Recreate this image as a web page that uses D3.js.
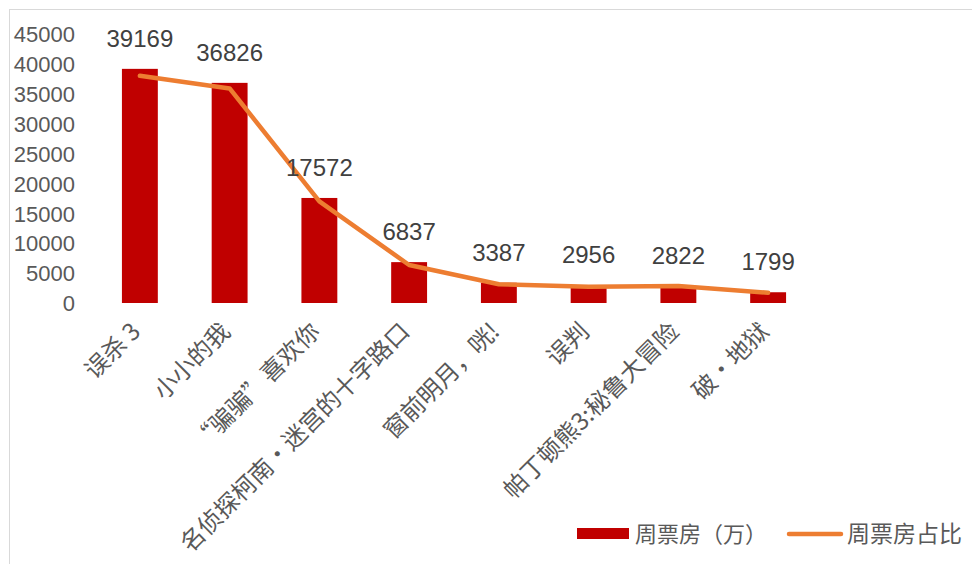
<!DOCTYPE html>
<html><head><meta charset="utf-8">
<script src="https://cdn.jsdelivr.net/npm/d3@7/dist/d3.min.js"></script>
<style>
html,body{margin:0;padding:0;background:#fff;}
text{font-family:"Liberation Sans","Noto Sans CJK SC",sans-serif;}
text.cjk{font-family:"Noto Sans CJK SC","Liberation Sans",sans-serif;}
</style></head>
<body>
<svg id="c" width="972" height="564"></svg>
<script>
const categories = ["误杀 3","小小的我","“骗骗”喜欢你","名侦探柯南・迷宫的十字路口","窗前明月，咣!","误判","帕丁顿熊3:秘鲁大冒险","破・地狱"];
const boxOffice = [39169,36826,17572,6837,3387,2956,2822,1799];
const share = [33.8,31.9,15.1,5.65,2.78,2.42,2.53,1.53];
const yTicks = [0,5000,10000,15000,20000,25000,30000,35000,40000,45000];
const seriesNames = ["周票房（万）","周票房占比"];

const svg = d3.select("#c");
// frame
svg.append("rect").attr("x",9.5).attr("y",9.5).attr("width",1000).attr("height",1000)
  .attr("fill","none").attr("stroke","#d9d9d9").attr("stroke-width",1);

const x = d3.scaleBand().domain(categories).range([95,813]).paddingInner(0.6).paddingOuter(0.3);
const y = d3.scaleLinear().domain([0,45000]).range([303,34]);
const y2 = d3.scaleLinear().domain([0,40]).range([303,34]);

// y axis
const yAxis = svg.append("g").attr("transform","translate(75,0)")
  .call(d3.axisLeft(y).tickValues(yTicks).tickSize(0).tickPadding(0).tickFormat(d3.format("d")));
yAxis.select(".domain").remove();
yAxis.selectAll("text").attr("fill","#595959").style("font-size","22px").attr("dy","0.35em");

// bars
svg.append("g").selectAll("rect").data(boxOffice).join("rect")
  .attr("x",(d,i)=>x(categories[i])).attr("width",x.bandwidth())
  .attr("y",d=>y(d)).attr("height",d=>y(0)-y(d)).attr("fill","#C00000");

// line
const line = d3.line().x((d,i)=>x(categories[i])+x.bandwidth()/2).y(d=>y2(d));
svg.append("path").datum(share).attr("d",line).attr("fill","none")
  .attr("stroke","#ED7D31").attr("stroke-width",4.5).attr("stroke-linecap","round").attr("stroke-linejoin","round");

// data labels
svg.append("g").selectAll("text").data(boxOffice).join("text")
  .attr("x",(d,i)=>x(categories[i])+x.bandwidth()/2).attr("y",d=>y(d)-22)
  .attr("text-anchor","middle").attr("fill","#404040").style("font-size","24px").text(d=>d);

// x axis labels
const xAxis = svg.append("g").attr("transform","translate(0,303)")
  .call(d3.axisBottom(x).tickSize(0).tickPadding(0));
xAxis.select(".domain").remove();
xAxis.selectAll("text").attr("class","cjk").attr("fill","#595959").style("font-size","24px")
  .attr("text-anchor","end").attr("dy",null).attr("y",0)
  .attr("transform","translate(2,30) rotate(-45)");

// legend
const lg = svg.append("g");
lg.append("rect").attr("x",577).attr("y",528).attr("width",52).attr("height",11).attr("fill","#C00000");
lg.append("text").attr("class","cjk").attr("x",635).attr("y",534).attr("dy","0.35em").attr("fill","#595959").style("font-size","22px").text(seriesNames[0]);
lg.append("line").attr("x1",789).attr("x2",841).attr("y1",534).attr("y2",534)
  .attr("stroke","#ED7D31").attr("stroke-width",4.5).attr("stroke-linecap","round");
lg.append("text").attr("class","cjk").attr("x",847).attr("y",534).attr("dy","0.35em").attr("fill","#595959").style("font-size","23px").text(seriesNames[1]);
</script>
</body></html>
